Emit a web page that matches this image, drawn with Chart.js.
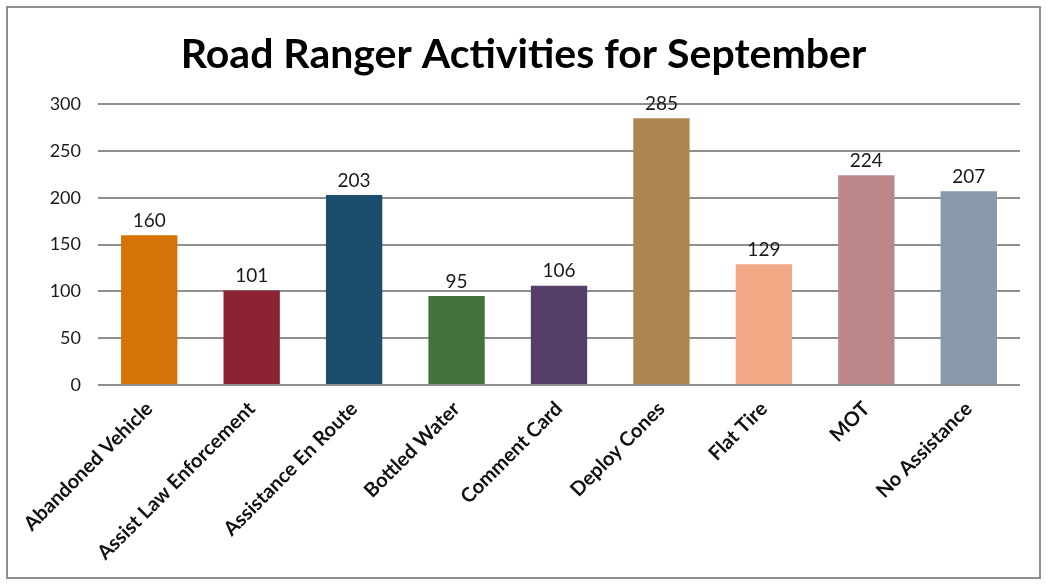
<!DOCTYPE html>
<html>
<head>
<meta charset="utf-8">
<script src="https://cdn.jsdelivr.net/npm/chart.js@4.4.0/dist/chart.umd.min.js"></script>
<style>
  body { margin: 0; background: #fff; }
  #wrap { position: absolute; left: 6px; top: 6px; width: 1031px; height: 569px; border: 2px solid #8f8f8f; }
</style>
</head>
<body>
<div id="wrap"><canvas id="rangerChart" width="1031" height="569"></canvas></div>
<script>
// data
var activities = ['Abandoned Vehicle', 'Assist Law Enforcement', 'Assistance En Route', 'Bottled Water',
  'Comment Card', 'Deploy Cones', 'Flat Tire', 'MOT', 'No Assistance'];
var counts = [160, 101, 203, 95, 106, 285, 129, 224, 207];
var barColors = ['#D57309', '#8B2332', '#1B4D6D', '#44733B', '#553F69', '#AB8650', '#F3A886', '#BD868B', '#8799AA'];
var yTicks = [0, 50, 100, 150, 200, 250, 300];

// little plugin to print the value above every bar
var valueLabels = {
  id: 'valueLabels',
  afterDatasetsDraw: function(chart) {
    var ctx = chart.ctx;
    var meta = chart.getDatasetMeta(0);
    ctx.save();
    ctx.font = '19px Lato';
    ctx.fillStyle = '#1a1a1a';
    ctx.textAlign = 'center';
    ctx.textBaseline = 'bottom';
    meta.data.forEach(function(bar, i) {
      ctx.fillText(counts[i], bar.x, bar.y - 5);
    });
    ctx.restore();
  }
};

var ctx = document.getElementById('rangerChart').getContext('2d');
var myChart = new Chart(ctx, {
  type: 'bar',
  data: {
    labels: activities,
    datasets: [{
      data: counts,
      backgroundColor: barColors,
      barPercentage: 0.55,
      categoryPercentage: 1
    }]
  },
  options: {
    responsive: false,
    animation: false,
    layout: { padding: { top: 0, right: 19, left: 19, bottom: 0 } },
    scales: {
      x: {
        grid: { display: false, drawTicks: false },
        border: { display: false },
        ticks: {
          color: '#111',
          font: { family: 'Lato', size: 20, weight: 'bold' },
          minRotation: 45,
          maxRotation: 45,
          padding: 12
        },
        afterFit: function(scale) { scale.height = 192; }
      },
      y: {
        min: 0,
        max: 300,
        afterBuildTicks: function(scale) {
          scale.ticks = yTicks.map(function(v) { return { value: v }; });
        },
        grid: { color: '#8f8f8f', lineWidth: 2, drawTicks: false },
        border: { display: false },
        ticks: {
          color: '#1a1a1a',
          font: { family: 'Lato', size: 18 },
          padding: 17
        },
        afterFit: function(scale) { scale.width = 71; }
      }
    },
    plugins: {
      legend: { display: false },
      tooltip: { enabled: false },
      title: {
        display: true,
        text: 'Road Ranger Activities for September',
        color: '#000',
        font: { family: 'Lato', size: 41, weight: 'bold' },
        padding: { top: 22, bottom: 25 }
      }
    }
  },
  plugins: [valueLabels]
});
</script>
</body>
</html>
